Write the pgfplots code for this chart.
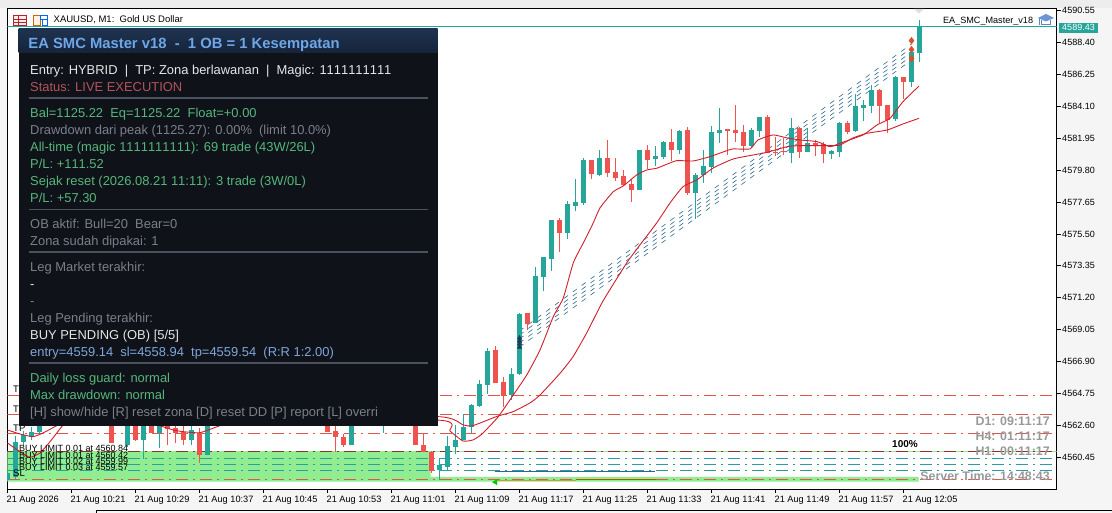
\documentclass[border=0pt]{standalone}
\usepackage{pgfplots}
\usepackage{pgfplotstable}
\usepackage{fontspec}
\setmainfont[Kerning=Off]{Liberation Sans}
\pgfplotsset{compat=1.18}
\usetikzlibrary{plotmarks}
\definecolor{cup}{HTML}{26A69A}
\definecolor{cdn}{HTML}{EF5350}
\definecolor{ma}{HTML}{D01F2B}
\definecolor{lred}{HTML}{E0564C}
\definecolor{lteal}{HTML}{2E9CA6}
\definecolor{band}{HTML}{90EE90}
\definecolor{pbg}{HTML}{10121A}
\definecolor{tgreen}{HTML}{54B77A}
\definecolor{tgray}{HTML}{7A7F8A}
\definecolor{tred}{HTML}{B5525A}
\definecolor{tblue}{HTML}{7EA6D8}
\definecolor{twhite}{HTML}{E6E6E6}
\definecolor{thead}{HTML}{6EA6E8}
\definecolor{pdiv}{HTML}{4A5260}
\definecolor{tdash}{HTML}{2F6690}
\definecolor{dmd}{HTML}{D9502E}
\pgfplotstableread{
x o h l c
0 4558.95 4559.62 4558.88 4559.42
1 4559.17 4561.91 4559.01 4561.52
2 4561.52 4562.24 4561.30 4561.97
3 4561.86 4562.51 4561.64 4562.20
4 4562.20 4563.32 4562.04 4562.98
15 4561.30 4563.65 4561.17 4563.32
17 4561.64 4563.65 4560.34 4563.32
19 4562.09 4563.65 4561.08 4563.32
23 4561.64 4562.58 4561.30 4562.31
25 4560.63 4563.65 4560.63 4563.32
43 4561.30 4563.65 4561.30 4563.32
47 4562.98 4563.65 4562.09 4563.32
54 4559.62 4560.41 4558.95 4559.95
55 4559.84 4561.91 4559.57 4561.23
56 4561.19 4562.65 4560.69 4561.64
57 4561.64 4563.37 4561.64 4562.53
58 4562.53 4564.06 4562.11 4563.99
59 4563.92 4565.67 4563.88 4565.40
60 4565.34 4567.81 4564.73 4567.62
63 4564.66 4566.46 4564.33 4566.08
64 4566.08 4570.20 4566.03 4570.11
66 4569.49 4573.30 4569.49 4572.67
67 4572.62 4573.95 4571.68 4573.93
68 4573.83 4576.44 4573.03 4576.44
70 4575.58 4577.70 4575.14 4577.51
71 4577.38 4579.18 4577.06 4577.65
72 4577.60 4580.59 4577.43 4580.48
74 4579.47 4581.15 4579.40 4580.59
79 4578.46 4581.15 4578.46 4581.15
81 4580.54 4581.42 4580.07 4580.74
82 4580.70 4581.75 4580.56 4581.71
84 4581.15 4582.49 4580.88 4582.45
86 4578.28 4579.58 4576.49 4579.47
87 4579.47 4581.15 4578.91 4580.07
88 4579.98 4582.76 4579.62 4582.34
89 4582.31 4583.95 4581.60 4582.49
93 4581.42 4582.61 4581.26 4582.49
94 4582.45 4583.37 4582.04 4583.37
98 4580.97 4583.28 4580.29 4582.61
100 4581.03 4582.61 4581.03 4581.60
103 4580.88 4581.15 4580.52 4581.08
104 4581.03 4583.05 4580.66 4582.98
106 4582.45 4584.92 4582.38 4584.11
107 4583.99 4584.51 4583.12 4584.18
108 4584.11 4585.52 4583.62 4585.19
111 4583.25 4586.13 4583.12 4586.08
113 4585.72 4588.08 4585.41 4587.76
114 4587.69 4589.89 4587.09 4589.43
}\upcandles
\pgfplotstableread{
x o h l c
13 4563.32 4563.65 4561.45 4561.45
16 4563.32 4563.65 4561.57 4561.64
18 4563.32 4563.65 4562.09 4562.09
20 4562.98 4563.32 4561.30 4562.36
21 4562.42 4562.98 4561.41 4562.09
22 4562.20 4562.65 4561.30 4561.64
24 4562.13 4562.44 4560.07 4560.63
40 4563.32 4563.65 4562.18 4562.20
41 4562.24 4562.65 4560.85 4561.82
42 4561.86 4562.04 4561.19 4561.30
51 4563.32 4563.65 4561.30 4561.30
52 4561.30 4562.11 4560.85 4560.85
53 4560.85 4560.90 4559.42 4559.57
61 4567.69 4567.96 4565.49 4565.49
62 4565.54 4565.90 4563.88 4564.62
65 4570.20 4570.20 4569.04 4569.44
69 4576.44 4576.57 4574.31 4575.58
73 4580.48 4580.48 4579.22 4579.53
75 4580.59 4581.82 4579.31 4579.58
76 4579.67 4580.59 4579.08 4579.26
77 4579.40 4579.80 4578.73 4578.79
78 4578.86 4579.18 4577.67 4578.46
80 4581.15 4581.46 4579.85 4580.48
83 4581.69 4582.54 4580.43 4581.15
85 4582.49 4582.68 4578.12 4578.28
90 4582.54 4582.54 4580.81 4582.45
91 4582.49 4584.18 4581.71 4582.31
92 4582.34 4582.83 4581.03 4581.42
95 4583.37 4583.50 4580.97 4580.97
96 4581.03 4582.04 4580.74 4580.99
97 4581.10 4581.94 4580.81 4581.05
99 4582.61 4582.72 4580.59 4581.03
101 4581.60 4581.82 4580.76 4581.44
102 4581.55 4581.71 4580.29 4580.88
105 4582.98 4583.12 4582.23 4582.36
109 4585.19 4585.23 4582.98 4584.11
110 4584.16 4584.16 4582.27 4583.17
112 4586.04 4586.04 4584.56 4585.72
}\downcandles
\pgfplotstableread{
x y
0 4561.43
1.56 4560.85
2.81 4560.47
4.06 4560.76
5.31 4561.52
6.94 4562.65
8.44 4563.65
18.44 4563.32
53.75 4562.98
55.31 4562.24
56.94 4561.57
58.19 4561.64
59.31 4562.04
61.31 4563.18
63.03 4564.51
64.9 4566.01
66.56 4567.69
68.22 4569.93
69.47 4571.19
70.72 4573.55
71.97 4574.89
73.22 4576.24
74.06 4577.25
75.72 4578.34
76.97 4578.73
78.65 4579.47
79.9 4579.80
81.15 4579.92
82.19 4580.14
83.65 4580.43
85.72 4580.41
87.81 4580.70
89.9 4581.10
90.69 4581.22
92.81 4581.22
93.81 4581.82
95.69 4582.16
97.44 4581.96
99.06 4581.82
101.19 4581.71
102.81 4581.37
104.06 4581.60
106.94 4582.16
108.69 4582.83
110.31 4583.28
111.94 4584.40
113.94 4585.45
}\mafast
\pgfplotstableread{
x y
0 4562.31
1.56 4562.04
3.19 4561.86
4.44 4562.11
6.31 4562.65
8.44 4563.32
18.44 4562.65
20.69 4562.31
21.94 4562.20
24.06 4562.13
26.78 4562.65
29.06 4563.12
53.75 4563.21
56.94 4562.65
58.03 4562.58
59.69 4562.91
61.31 4563.25
63.19 4563.54
65.31 4564.13
66.56 4564.66
69.06 4566.12
70.69 4567.24
72.4 4568.84
74.44 4570.99
77.4 4573.55
79.06 4574.76
81.15 4576.24
82.81 4577.58
84.44 4578.68
86.15 4579.13
88.23 4579.94
90.69 4580.54
93.19 4580.81
94.94 4580.99
97.44 4581.37
99.06 4581.44
102.81 4581.44
104.06 4581.48
105.69 4581.96
107.44 4582.27
109.94 4582.49
111.94 4582.90
113.94 4583.28
}\maslow
\tikzset{lvl/.style={line width=1.2pt,dash pattern=on 12pt off 5pt on 2pt off 5pt},
  tl/.style={tdash,line width=0.6pt,dash pattern=on 5pt off 6pt}}
\begin{document}
\begin{tikzpicture}[x=1pt,y=1pt]
\path[use as bounding box] (0,0) rectangle (1112,513);
\fill[white!96!black] (0,0) rectangle (1112,513);
\fill[black!7] (0,505) rectangle (1112,513);
\begin{axis}[
  at={(7.5pt,23.7pt)},anchor=south west,
  scale only axis,width=1049.2pt,height=481pt,
  xmin=0,xmax=131.15,ymin=4558.32,ymax=4590.68,
  axis background/.style={fill=white},
  axis line style={line width=1pt,black},
  tick style={black,line width=0.8pt},
  tick align=outside,major tick length=4pt,
  ytick pos=right,yticklabel pos=right,xtick pos=bottom,
  xtick={0,8,16,24,32,40,48,56,64,72,80,88,96,104,112},
  xticklabels={21 Aug 2026,21 Aug 10:21,21 Aug 10:29,21 Aug 10:37,21 Aug 10:45,21 Aug 10:53,21 Aug 11:01,21 Aug 11:09,21 Aug 11:17,21 Aug 11:25,21 Aug 11:33,21 Aug 11:41,21 Aug 11:49,21 Aug 11:57,21 Aug 12:05},
  ytick={4560.45,4562.60,4564.75,4566.90,4569.05,4571.20,4573.35,4575.50,4577.65,4579.80,4581.95,4584.10,4586.25,4588.40,4590.55},
  yticklabel style={font=\fontsize{9}{9}\selectfont,anchor=west,xshift=-2pt,
    /pgf/number format/.cd,fixed,fixed zerofill,precision=2,1000 sep={},assume math mode=true},
  xticklabel style={font=\fontsize{9.2}{9.2}\selectfont,anchor=north west,inner xsep=0pt,xshift=-1pt,yshift=1pt},
  scaled ticks=false,
]
% order zones
\addplot[fill=band,draw=none] coordinates {(0,4558.83)(0,4560.85)(52.9,4560.85)(52.9,4559.15)(113.9,4559.15)(113.9,4558.83)} -- cycle;
% levels
\addplot[band,line width=0.8pt] coordinates {(0,4560.86)(131.15,4560.86)};
\addplot[lred,lvl] coordinates {(0,4564.63)(131.15,4564.63)};
\addplot[lred,lvl] coordinates {(0,4563.35)(131.15,4563.35)};
\addplot[lred,lvl] coordinates {(0,4562.07)(131.15,4562.07)};
\addplot[black!40!lred,lvl,line width=1.4pt] coordinates {(0,4560.86)(131.15,4560.86)};
\addplot[lteal,lvl,line width=1.1pt] coordinates {(0,4560.39)(131.15,4560.39)};
\addplot[lteal,lvl,line width=1.1pt] coordinates {(0,4559.99)(131.15,4559.99)};
\addplot[lteal,lvl,line width=1.1pt] coordinates {(0,4559.59)(131.15,4559.59)};
\addplot[lred,lvl] coordinates {(0,4558.98)(131.15,4558.98)};
% bid line
\addplot[cup,line width=1pt] coordinates {(0,4589.43)(131.15,4589.43)};
% small trade-history lines near the bottom
\addplot[tdash,line width=0.8pt] coordinates {(60.9,4559.55)(80.9,4559.55)};
\addplot[orange!70!red,line width=0.8pt,opacity=.55] coordinates {(61,4558.95)(71,4558.95)};
\addplot[orange!70!black,line width=1.1pt] coordinates {(71,4558.95)(81,4558.95)};
% dashed trades
\addplot[tl] coordinates {(64,4568.97)(113,4588.28)};
\addplot[tl] coordinates {(64,4568.70)(113,4588.01)};
\addplot[tl] coordinates {(64,4568.43)(113,4587.74)};
\addplot[tl] coordinates {(64,4568.16)(113,4587.47)};
\addplot[tl] coordinates {(64,4567.89)(113,4587.20)};
% candles: wicks then bodies
\addplot[draw=none,no marks,error bars/.cd,y dir=both,y explicit,error mark=none,error bar style={solid,line width=1pt,cup}]
  table[x=x,y=o,y error plus expr=\thisrow{h}-\thisrow{o},y error minus expr=\thisrow{o}-\thisrow{l}] {\upcandles};
\addplot[draw=none,no marks,error bars/.cd,y dir=both,y explicit,error mark=none,error bar style={solid,line width=1pt,cdn}]
  table[x=x,y=o,y error plus expr=\thisrow{h}-\thisrow{o},y error minus expr=\thisrow{o}-\thisrow{l}] {\downcandles};
\addplot[draw=none,no marks,error bars/.cd,y dir=plus,y explicit,error mark=none,error bar style={solid,line width=5.4pt,cup}]
  table[x=x,y=o,y error plus expr=\thisrow{c}-\thisrow{o}] {\upcandles};
\addplot[draw=none,no marks,error bars/.cd,y dir=minus,y explicit,error mark=none,error bar style={solid,line width=5.4pt,cdn}]
  table[x=x,y=o,y error minus expr=\thisrow{o}-\thisrow{c}] {\downcandles};
% moving averages
\addplot[ma,line width=0.9pt,smooth,tension=0.3] table[x=x,y=y] {\mafast};
\addplot[ma,line width=0.9pt,smooth,tension=0.3] table[x=x,y=y] {\maslow};
% trade marks
\addplot[only marks,mark=diamond*,mark size=3.4pt,color=dmd] coordinates {(113,4588.50)(113,4587.90)(113,4587.29)};
\addplot[only marks,mark=triangle*,mark size=2.6pt,color=tdash!60!black] coordinates {(64,4568.50)(64,4568.30)(64,4568.10)(64,4567.89)};
\addplot[only marks,mark=triangle*,mark size=3pt,color=green!80!black,mark options={rotate=90}] coordinates {(61,4558.80)};
\end{axis}
\begin{scope}[shift={(0,513)},y=-1pt,x=1pt]
% window details
\draw[black,line width=1pt] (96,513) -- (96,510.5) -- (1112,510.5);
\fill[black!12] (914,9) -- (924,9) -- (919,13.5) -- cycle;
% title icons
\draw[red!65!black!85,fill=red!8,line width=0.9pt] (13,15.5) rectangle (26,25.5);
\draw[red!65!black!85,line width=0.9pt] (13,19) -- (26,19) (13,22) -- (26,22) (18,15.5) -- (18,25.5);
\draw[orange!80!black,fill=orange!10,line width=0.9pt] (33.5,15.5) rectangle (40,25.5);
\draw[blue!60!cyan,line width=0.9pt] (40,19) rectangle (47,15.5) (42,19) -- (42,25.5) -- (47,25.5) -- (47,19);
\node[anchor=base west,inner sep=0,font=\fontsize{9.5}{9.5}\selectfont] at (53.5,23) {XAUUSD, M1:~~Gold US Dollar};
\node[anchor=base east,inner sep=0,font=\fontsize{9.1}{9.1}\selectfont] at (1033.3,23.3) {EA\_SMC\_Master\_v18};
% hat icon
\fill[cyan!45!blue!60!white] (1038,18) -- (1046,14) -- (1054,18) -- (1046,21.5) -- cycle;
\draw[cyan!45!blue!70!white,line width=0.9pt] (1041.5,20) -- (1041.5,24) -- (1050.5,24) -- (1050.5,20) (1039,18.5) -- (1039,25);
% price tag
\fill[cup] (1059.3,22.7) rectangle (1097.7,32.7);
\node[text=white,inner sep=0,font=\fontsize{9}{9}\selectfont] at (1078.5,27.7) {4589.43};
% chart labels
\foreach \yy/\tt in {393/TP,412.5/TP,431.5/TP,477/SL}
  \node[anchor=base west,inner sep=0,font=\fontsize{9.5}{9.5}\selectfont] at (13,\yy) {\tt};
\foreach \yy/\tt in {451.7/0.01 at 4560.84,458.3/0.01 at 4560.42,464.3/0.02 at 4559.99,470.3/0.03 at 4559.57}
  \node[anchor=base west,inner sep=0,font=\fontsize{9}{9}\selectfont] at (19,\yy) {BUY LIMIT \tt};
\node[inner sep=0,font=\bfseries\fontsize{10}{10}\selectfont] at (905,444.3) {100\%};
\foreach \yy/\tt in {425.5/D1: 09:11:17,440.5/H4: 01:11:17,455.5/H1: 00:11:17,481/Server Time: 14:48:43}
  \node[anchor=base east,inner sep=0,text=black!40,font=\bfseries\fontsize{12.4}{12.4}\selectfont] at (1050,\yy) {\tt};
% panel
\fill[pbg] (18.5,29) rectangle (437.5,426);
\shade[shading=axis,top color={rgb,255:red,30;green,50;blue,80},bottom color={rgb,255:red,22;green,36;blue,58}] (18.5,29) rectangle (437.5,53);
\node[anchor=base west,inner sep=0,text=thead,font=\bfseries\fontsize{14.8}{14.8}\selectfont] at (28.2,48.3) {EA SMC Master v18~~-~~1 OB = 1 Kesempatan};
\foreach \yy in {98.3,209.7,252,363.3}
  \draw[pdiv,line width=1.6pt] (28.5,\yy) -- (428,\yy);
\tikzset{pl/.style={anchor=base west,inner sep=0,font=\fontsize{12.93}{12.93}\selectfont}}
\node[pl,text=twhite] at (30,74.5) {Entry: HYBRID~~|~~TP: Zona berlawanan~~|~~Magic: 1111111111};
\node[pl,text=tred] at (30,91.5) {Status: LIVE EXECUTION};
\node[pl,text=tgreen] at (30,117.7) {Bal=1125.22~~Eq=1125.22~~Float=+0.00};
\node[pl,text=tgray] at (30,134.7) {Drawdown dari peak (1125.27): 0.00\%~~(limit 10.0\%)};
\node[pl,text=tgreen] at (30,151.7) {All-time (magic 1111111111): 69 trade (43W/26L)};
\node[pl,text=tgreen] at (30,168.5) {P/L: +111.52};
\node[pl,text=tgreen] at (30,185.7) {Sejak reset (2026.08.21 11:11): 3 trade (3W/0L)};
\node[pl,text=tgreen] at (30,202.7) {P/L: +57.30};
\node[pl,text=tgray] at (30,228.3) {OB aktif: Bull=20~~Bear=0};
\node[pl,text=tgray] at (30,245.5) {Zona sudah dipakai: 1};
\node[pl,text=tgray] at (30,271.3) {Leg Market terakhir:};
\node[pl,text=twhite] at (30,289) {-};
\node[pl,text=tgray] at (30,306) {-};
\node[pl,text=tgray] at (30,323) {Leg Pending terakhir:};
\node[pl,text=twhite] at (30,339.5) {BUY PENDING (OB) [5/5]};
\node[pl,text=tblue] at (30,356.7) {entry=4559.14~~sl=4558.94~~tp=4559.54~~(R:R 1:2.00)};
\node[pl,text=tgreen] at (30,382.3) {Daily loss guard: normal};
\node[pl,text=tgreen] at (30,399.3) {Max drawdown: normal};
\node[pl,text=tgray] at (30,416.3) {[H] show/hide [R] reset zona [D] reset DD [P] report [L] overri};
\end{scope}
\end{tikzpicture}
\end{document}
